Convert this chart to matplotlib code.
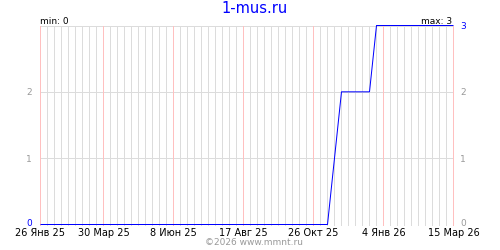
import matplotlib
matplotlib.use("Agg")
import matplotlib.pyplot as plt
import matplotlib.transforms as mtransforms
import numpy as np

# ---- data ----
dates = ["2025-01-26", "2025-11-09", "2025-11-23", "2025-12-21", "2025-12-28", "2026-03-15"]
values = [0, 0, 2, 2, 3, 3]

tick_dates = ["2025-01-26", "2025-03-30", "2025-06-08", "2025-08-17", "2025-10-26", "2026-01-04", "2026-03-15"]
tick_labels = ["26 Янв 25", "30 Мар 25", "8 Июн 25", "17 Авг 25", "26 Окт 25", "4 Янв 26", "15 Мар 26"]

title = "1-mus.ru"
footer = "©2026 www.mmnt.ru"
y_min_val = 0
y_max_val = 3

plt.rcParams['font.family'] = ['DejaVu Sans']

d = [np.datetime64(x) for x in dates]
td = [np.datetime64(x) for x in tick_dates]
start = np.datetime64("2025-01-26")
end = np.datetime64("2026-03-15")

fig = plt.figure(figsize=(5, 2.5), dpi=100)
ax = fig.add_axes([40.5/500, 25.5/250, 413/500, 199/250])
ax.set_xlim(start, end)
ax.set_ylim(0, 3)

GRID = "#dcdcdc"
PINK = "#ffc0c0"
LW = 0.72

# weekly grid
wk = np.arange(start, end + np.timedelta64(1, 'D'), np.timedelta64(7, 'D'))
for w in wk:
    ax.axvline(w, color=GRID, lw=LW, zorder=1, clip_on=False, antialiased=False)
for t in td:
    ax.axvline(t, color=PINK, lw=LW, zorder=2, clip_on=False, antialiased=False)
for yv in [1, 2, 3]:
    ax.axhline(yv, color=GRID, lw=LW, zorder=1, clip_on=False, antialiased=False)

ax.plot(d, values, color="#0000ff", lw=LW, zorder=3, solid_capstyle='butt', clip_on=False)

for s in ax.spines.values():
    s.set_visible(False)

ax.set_xticks(td)
ax.set_xticklabels(tick_labels, fontsize=7, color="black")
ax.tick_params(axis='x', length=0, pad=2.5)

lift = mtransforms.ScaledTranslation(0, 2/100, fig.dpi_scale_trans)

ax.set_yticks([0, 1, 2])
ax.set_yticklabels(["0", "1", "2"], fontsize=6.5)
ax.tick_params(axis='y', length=0, pad=6)
for lbl in ax.get_yticklabels():
    if lbl.get_text() == "0":
        lbl.set_color("#0000ff")
        lbl.set_transform(lbl.get_transform() + lift)
    else:
        lbl.set_color("#999999")

ax2 = ax.twinx()
ax2.set_ylim(0, 3)
ax2.set_yticks([0, 1, 2, 3])
ax2.set_yticklabels(["0", "1", "2", "3"], fontsize=6.5)
ax2.tick_params(axis='y', length=0, pad=5)
for lbl in ax2.get_yticklabels():
    lbl.set_color("#0000ff" if lbl.get_text() == "3" else "#999999")
    if lbl.get_text() == "0":
        lbl.set_transform(lbl.get_transform() + lift)
for s in ax2.spines.values():
    s.set_visible(False)

ax.text(0.0, 0.999, f"min: {y_min_val}", transform=ax.transAxes, fontsize=6.5,
        ha="left", va="bottom", color="black")
ax.text(0.996, 0.999, f"max: {y_max_val}", transform=ax.transAxes, fontsize=6.5,
        ha="right", va="bottom", color="black")

fig.text(255/500, 1 - 8.5/250, title, fontsize=10.5, color="#0000ff", ha="center", va="center")
fig.text(254/500, 1 - 242.5/250, footer, fontsize=6.5, color="#999999", ha="center", va="center")

fig.savefig("out.png", dpi=100)
